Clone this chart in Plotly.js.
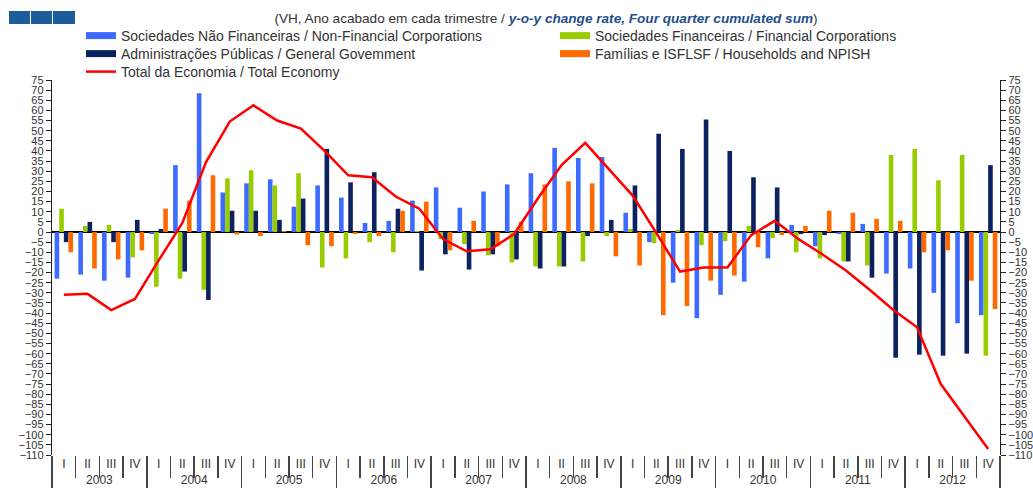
<!DOCTYPE html>
<html><head><meta charset="utf-8">
<script src="https://cdn.plot.ly/plotly-3.0.1.min.js"></script>
<style>html,body{margin:0;padding:0;background:#fff}#chart{width:1033px;height:497px}</style>
</head><body><div id="chart"></div>
<script>
const years = ['2003','2004','2005','2006','2007','2008','2009','2010','2011','2012'];
const quarters = ['I','II','III','IV'];
const seriesNames = [
  'Sociedades Não Financeiras / Non-Financial Corporations',
  'Sociedades Financeiras / Financial Corporations',
  'Administrações Públicas / General Govemment',
  'Famílias e ISFLSF / Households and NPISH',
  'Total da Economia / Total Economy'
];
const nfc = [-23,-21,-24,-22.5, -1,33,68.5,19.5, 24,26,12.5,23, 17,4.5,5.5,15.5, 22,12,20,23.5,
  29,41.5,36.5,37, 9.5,-5,-25,-42.5, -31,-24.5,-13,3.5, -7,-1,4,-20.5, -18,-30,-45,-41];
const fc = [11.5,3,3.5,-12.5, -27,-23,-28.5,26.5, 30.5,23,29,-17.5, -13,-5,-10,0.5, -3.5,-6,-11.5,-15,
  -17,-17,-14.5,-2, 1.5,-5.5,1,-6.5, -4.5,3,-3,-10, -13,-14.5,-16.5,38, 41,25.5,38,-61];
const gg = [-5,5,-5,6, 1.5,-19.5,-33.5,10.5, 10.5,6,16.5,41, 24.5,29.5,11.5,-19, -11,-18.5,-11,-13.5,
  -18,-17,-2,6, 23,48.5,41,55.5, 40,27,22,-1, -1.5,-14.5,-22.5,-62, -60.5,-61,-60,33];
const hh = [-10,-18,-13.5,-9, 11.5,15.5,28,-1.2, -2,0.5,-6.5,-7, -1,-2,10.5,15, -9,5.5,-7,5,
  23.5,25,24,-12, -16.5,-41,-36.5,-24, -21.5,-7.5,-1.5,3, 10.5,9.5,6.5,5.5, -10,-9,-24,-38];
const total = [-31,-30.5,-38.5,-33, -14,4.5,34.5,54.5, 62.5,55,51,40, 28,27,17.5,11.5, -3.5,-9.5,-8.5,-1,
  16.5,33,44,31, 18,-0.5,-19.5,-17.5, -17.5,-1.5,5.5,-3.5, -11,-19,-28.5,-38.5, -47,-75,-91,-107];
const colors = ['#3D6BFF','#99CC00','#0B2160','#FF6A00','#FF0000'];

const xYear = [], xQ = [];
years.forEach(y => quarters.forEach(q => { xYear.push(y); xQ.push(q); }));
const X = [xYear, xQ];

const legendIds = ['legend','legend2','legend3','legend4','legend5'];
const barData = [nfc, fc, gg, hh];
const traces = [];
barData.forEach((vals, k) => traces.push({
  type: 'bar', x: X, y: vals, name: seriesNames[k], showlegend: false,
  marker: {color: colors[k], line: {width: 0}}, hoverinfo: 'y+name'
}));
barData.forEach((vals, k) => traces.push({
  type: 'scatter', mode: 'lines', x: [[years[0]],[quarters[0]]], y: [null], name: seriesNames[k],
  legend: legendIds[k], line: {color: colors[k], width: 7}, hoverinfo: 'skip'
}));
traces.push({
  type: 'scatter', mode: 'lines', x: X, y: total, name: seriesNames[4], yaxis: 'y2',
  legend: legendIds[4], line: {color: colors[4], width: 2.5}
});

const W = 1033, H = 497, L = 52, R = 1000, T = 80, B = 455;
const px2x = p => (p - L) / (R - L);
const px2y = p => (B - p) / (B - T);
const shapes = [[9,30],[31,52],[53,75]].map(([a,b]) => ({
  type: 'rect', xref: 'paper', yref: 'paper', x0: px2x(a), x1: px2x(b), y0: px2y(24), y1: px2y(11),
  fillcolor: '#1C5D99', line: {width: 0}
}));

const tickFont = {family: 'Liberation Sans, Arial, sans-serif', size: 11, color: '#333'};
const yax = {
  range: [-110, 75], tickmode: 'linear', tick0: -110, dtick: 5, ticks: 'outside', ticklen: 5,
  tickcolor: '#222', tickwidth: 1, showline: true, linecolor: '#222', linewidth: 1.2,
  showgrid: false, zeroline: false, automargin: false, tickfont: tickFont
};

const legendBase = {
  orientation: 'v', xanchor: 'left', yanchor: 'middle', itemwidth: 30,
  font: {size: 14, color: '#333'}, bgcolor: 'rgba(0,0,0,0)', borderwidth: 0
};
const legendPos = [[81,36],[555,36],[81,54],[555,54],[81,72]];

const layout = {
  width: W, height: H,
  margin: {l: L, r: W - R, t: T, b: H - B, pad: 0},
  paper_bgcolor: '#fff', plot_bgcolor: '#fff',
  barmode: 'group', bargap: 0.22, bargroupgap: 0.0,
  font: {family: 'Liberation Sans, Arial, sans-serif', color: '#333'},
  title: {
    text: '(VH, Ano acabado em cada trimestre / <span style="color:#1F4E8C"><b><i>y-o-y change rate, Four quarter cumulated sum</i></b></span>)',
    x: 546 / W, xanchor: 'center', xref: 'container', y: 1 - 18 / H, yanchor: 'middle', yref: 'container',
    font: {size: 13.6, color: '#333'}
  },
  xaxis: {
    type: 'multicategory', ticks: 'outside', ticklen: 22, tickwidth: 1.5, tickcolor: '#444',
    showline: false, showgrid: false, zeroline: false, automargin: false,
    showdividers: true, dividercolor: '#444', dividerwidth: 1.5,
    tickfont: {size: 12, color: '#333'}
  },
  yaxis: Object.assign({}, yax, {side: 'left', zeroline: true, zerolinecolor: '#000', zerolinewidth: 1.5}),
  yaxis2: Object.assign({}, yax, {side: 'right', overlaying: 'y'}),
  shapes: shapes,
  showlegend: true
};
legendIds.forEach((id, k) => {
  layout[id] = Object.assign({}, legendBase, {x: px2x(legendPos[k][0]), y: px2y(legendPos[k][1])});
});

Plotly.newPlot('chart', traces, layout, {displayModeBar: false, staticPlot: true});
</script></body></html>
